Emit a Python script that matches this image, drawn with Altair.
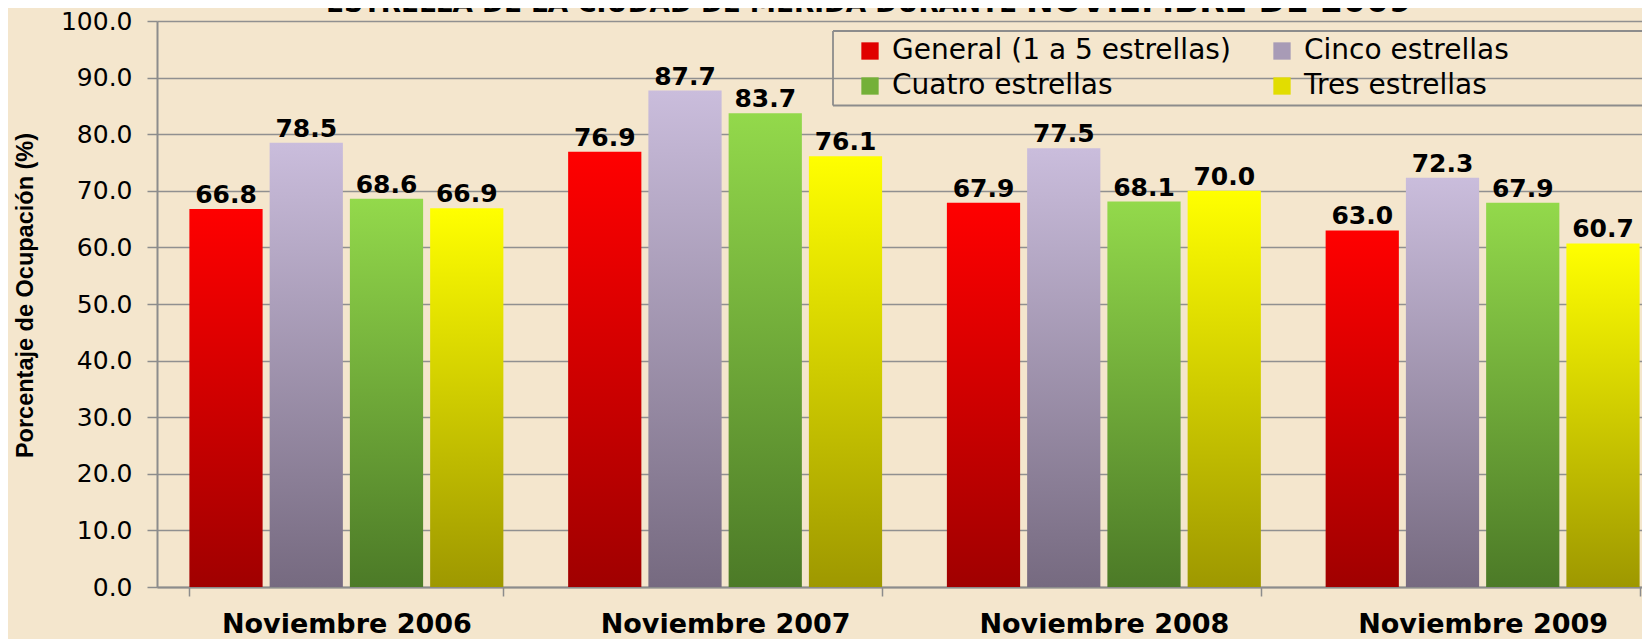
import altair as alt
import pandas as pd

months = ["Noviembre 2006", "Noviembre 2007", "Noviembre 2008", "Noviembre 2009"]
series = ["General (1 a 5 estrellas)", "Cinco estrellas", "Cuatro estrellas", "Tres estrellas"]
general = [66.8, 76.9, 67.9, 63.0]
cinco = [78.5, 87.7, 77.5, 72.3]
cuatro = [68.6, 83.7, 68.1, 67.9]
tres = [66.9, 76.1, 70.0, 60.7]
title_part1 = ["ESTRELLA DE LA CIUDAD DE MÉRIDA DURANTE"]
title_part2 = ["NOVIEMBRE DE 2009"]
y_title = "Porcentaje de Ocupación (%)"

top_colors = ["#FF0000", "#CABDDC", "#93D94B", "#FFFF00"]
bottom_colors = ["#A00000", "#766A80", "#4C7A27", "#9E9800"]
legend_colors = ["#E00000", "#A89BB6", "#74B038", "#E2DD00"]
# legend entries are laid out column by column
legend_order = [series[0], series[2], series[1], series[3]]
legend_order_colors = [legend_colors[0], legend_colors[2], legend_colors[1], legend_colors[3]]

rows = []
for s, vals in zip(series, [general, cinco, cuatro, tres]):
    for m, v in zip(months, vals):
        rows.append({"mes": m, "serie": s, "valor": v})
df = pd.DataFrame(rows)

x_enc = alt.X(
    "mes:N", sort=months,
    scale=alt.Scale(range=[0, 1515], paddingInner=0.171, paddingOuter=0.0855),
    axis=alt.Axis(title=None, labelFont="DejaVu Sans", labelFontSize=27, labelFontWeight="bold",
                  labelColor="black", tickBand="extent", tickSize=9, tickColor="#8c8c8c", tickWidth=1.5,
                  domainColor="#8c8c8c", domainWidth=2, labelPadding=15, grid=False, labelAngle=0,
                  labelLimit=1000),
)
xo_enc = alt.XOffset("serie:N", sort=series,
                     scale=alt.Scale(domain=series, paddingInner=0.0875, paddingOuter=0))
y_enc = alt.Y(
    "valor:Q", scale=alt.Scale(domain=[0, 100], nice=False),
    axis=alt.Axis(values=list(range(0, 101, 10)), format=".1f", labelFont="DejaVu Sans", labelFontSize=25,
                  labelColor="black", tickSize=10, tickColor="#8c8c8c", tickWidth=1.5,
                  domainColor="#8c8c8c", domainWidth=2, gridColor="#909090", gridWidth=1.5,
                  labelPadding=15, title=y_title, titleFont="Liberation Sans", titleFontSize=23.5,
                  titleFontWeight="bold", titleColor="black", titlePadding=23, titleY=274),
)

base = alt.Chart(df)
layers = []
for s, c1, c2 in zip(series, top_colors, bottom_colors):
    grad = alt.Gradient(gradient="linear", x1=0, x2=0, y1=0, y2=1,
                        stops=[alt.GradientStop(color=c1, offset=0), alt.GradientStop(color=c2, offset=1)])
    layers.append(
        base.transform_filter(alt.datum.serie == s)
        .mark_bar(color=grad)
        .encode(x=x_enc, xOffset=xo_enc, y=y_enc)
    )

labels = base.mark_text(font="DejaVu Sans", fontSize=25, fontWeight="bold", color="black",
                        baseline="alphabetic", align="center", dy=-6).encode(
    x=x_enc, xOffset=xo_enc, y=y_enc, text=alt.Text("valor:Q", format=".1f"))

legend_layer = base.mark_square(size=0, opacity=0).encode(
    x=x_enc, xOffset=xo_enc, y=y_enc,
    color=alt.Color("serie:N", sort=legend_order,
                    scale=alt.Scale(domain=legend_order, range=legend_order_colors),
                    legend=alt.Legend(title=None, orient="none", legendX=676, legendY=10, columns=2,
                                      symbolType="square", symbolSize=300, symbolOpacity=1,
                                      symbolStrokeWidth=0, symbolOffset=17, labelOffset=8,
                                      labelFont="DejaVu Sans", labelFontSize=28, labelColor="black",
                                      labelLimit=2000, columnPadding=20, rowPadding=7, padding=6)),
)

# legend frame: left, top and bottom edges (it runs off the right edge, as in the original)
frame_df = pd.DataFrame({"f": [0]})
frame_style = dict(color="#8c8c8c", strokeWidth=1.8)
frame_left = alt.Chart(frame_df).mark_rule(**frame_style).encode(
    x=alt.value(676), y=alt.value(10), y2=alt.value(84.5))
frame_top = alt.Chart(frame_df).mark_rule(**frame_style).encode(
    x=alt.value(676), x2=alt.value(1600), y=alt.value(10))
frame_bottom = alt.Chart(frame_df).mark_rule(**frame_style).encode(
    x=alt.value(676), x2=alt.value(1600), y=alt.value(84.5))

t1 = alt.Chart(pd.DataFrame({"t": title_part1})).mark_text(
    font="DejaVu Sans", fontWeight="bold", fontSize=26.3, align="left", baseline="alphabetic", color="black"
).encode(x=alt.value(169), y=alt.value(-9), text="t:N")
t2 = alt.Chart(pd.DataFrame({"t": title_part2})).mark_text(
    font="DejaVu Sans", fontWeight="bold", fontSize=33, align="left", baseline="alphabetic", color="black"
).encode(x=alt.value(869), y=alt.value(-9), text="t:N")

chart = alt.layer(*layers, labels, legend_layer, frame_left, frame_top, frame_bottom, t1, t2).properties(
    width=1485, height=566,
    autosize=alt.AutoSizeParams(type="none"),
    padding={"left": 149, "top": 13, "right": 0, "bottom": 52},
    background="#F4E6CD",
).configure_view(stroke=None)

chart.save("out.html", embed_options={"renderer": "svg", "actions": False})
